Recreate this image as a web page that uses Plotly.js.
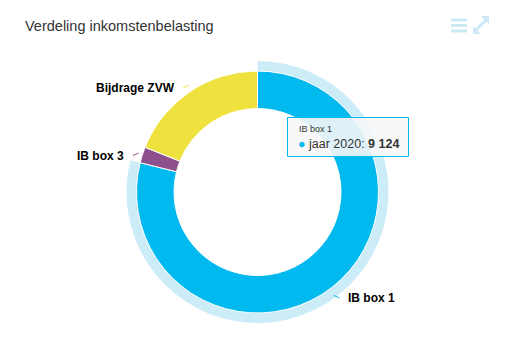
<!DOCTYPE html>
<html><head><meta charset="utf-8">
<script src="https://cdn.plot.ly/plotly-3.0.1.min.js"></script>
<style>html,body{margin:0;padding:0;background:#fff}#c{width:517px;height:362px}</style>
</head><body><div id="c"></div>
<script>
const categories = ["IB box 1", "IB box 3", "Bijdrage ZVW"];
const values = [9124, 245, 2195];
const colors = ["#00b9ee", "#8d4f8d", "#f0e23e"];
const seriesName = "jaar 2020";
const hoverIndex = 0;

const W = 517, H = 362;
const CX = 257.5, CY = 192, R = 121;           // pie geometry in px (layout only)
const px = x => x / W, py = y => 1 - y / H;

const haloColors = categories.map((c, i) => i === hoverIndex ? "rgba(0,160,220,0.2)" : "rgba(0,0,0,0)");
const RH = R + 10;
const halo = {
  type: "pie", labels: categories, values: values, sort: false, direction: "clockwise", rotation: 0,
  hole: R / RH, domain: {x: [px(CX - RH), px(CX + RH)], y: [py(CY + RH), py(CY - RH)]},
  marker: {colors: haloColors, line: {width: 0}}, textinfo: "none", hoverinfo: "skip", showlegend: false
};
const main = {
  type: "pie", labels: categories, values: values, sort: false, direction: "clockwise", rotation: 0,
  hole: 0.69, domain: {x: [px(CX - R), px(CX + R)], y: [py(CY + R), py(CY - R)]},
  marker: {colors: colors, line: {color: "#ffffff", width: 1}},
  textinfo: "none", showlegend: false
};

const fmt = v => String(v).replace(/\B(?=(\d{3})+(?!\d))/g, " ");
const FONT = "Liberation Sans, Arial, sans-serif";
const lblFont = {family: FONT, size: 12, color: "#000000", weight: "bold"};

// data labels placed around the mid-angle of each slice
const total = values.reduce((a, b) => a + b, 0);
const annotations = [];
let cum = 0;
values.forEach((v, i) => {
  const mid = (cum + v / 2) / total * 2 * Math.PI; cum += v;
  const s = Math.sin(mid), c = Math.cos(mid);
  const side = s >= 0 ? 1 : -1;
  const lx = CX + (134 + 12 * Math.abs(c)) * s, ly = CY - 130 * c + 4;
  annotations.push({xref: "paper", yref: "paper", x: px(lx), y: py(ly), xanchor: side > 0 ? "left" : "right", yanchor: "middle",
    showarrow: false, text: categories[i], font: lblFont});
  const sx = lx - side * 5, ex = sx - side * 7;
  annotations.push({xref: "paper", yref: "paper", x: px(ex), y: py(ly - 3), ax: sx - ex, ay: 3, text: "",
    showarrow: true, arrowhead: 0, arrowwidth: 1, arrowcolor: colors[i], standoff: 0, startstandoff: 0});
});

// tooltip
annotations.push({xref: "paper", yref: "paper", x: px(297), y: py(129), xanchor: "left", yanchor: "middle",
  showarrow: false, text: categories[hoverIndex], font: {family: FONT, size: 9, color: "#333333"}});
annotations.push({xref: "paper", yref: "paper", x: px(296), y: py(144), xanchor: "left", yanchor: "middle",
  showarrow: false, text: '<span style="color:' + colors[hoverIndex] + '">●</span> ' + seriesName + ': <b>' + fmt(values[hoverIndex]) + '</b>',
  font: {family: FONT, size: 12.5, color: "#333333"}});

const iconColor = "#cde9f6";
const shapes = [];
shapes.push({type: "rect", xref: "paper", yref: "paper", x0: px(287.5), x1: px(408.5), y0: py(117.5), y1: py(156.5),
  fillcolor: "rgba(247,247,247,0.9)", line: {color: colors[hoverIndex], width: 1}, layer: "above"});
[20, 25.5, 31].forEach(y => shapes.push({type: "line", xref: "paper", yref: "paper", x0: px(451), x1: px(467), y0: py(y), y1: py(y),
  line: {color: iconColor, width: 3}}));
shapes.push({type: "line", xref: "paper", yref: "paper", x0: px(476), y0: py(30), x1: px(486), y1: py(20), line: {color: iconColor, width: 3}});
shapes.push({type: "path", xref: "paper", yref: "paper", fillcolor: iconColor, line: {width: 0},
  path: `M${px(489)},${py(16)} L${px(481)},${py(16)} L${px(489)},${py(24)} Z`});
shapes.push({type: "path", xref: "paper", yref: "paper", fillcolor: iconColor, line: {width: 0},
  path: `M${px(473)},${py(34)} L${px(481)},${py(34)} L${px(473)},${py(26)} Z`});

const layout = {
  width: W, height: H, margin: {l: 0, r: 0, t: 0, b: 0},
  paper_bgcolor: "#ffffff", plot_bgcolor: "#ffffff",
  title: {text: "Verdeling inkomstenbelasting", x: px(25), xanchor: "left", y: py(26), yanchor: "middle",
          font: {family: FONT, size: 14.5, color: "#333333"}},
  annotations: annotations, shapes: shapes
};
Plotly.newPlot("c", [halo, main], layout, {displayModeBar: false, staticPlot: true});
</script></body></html>
